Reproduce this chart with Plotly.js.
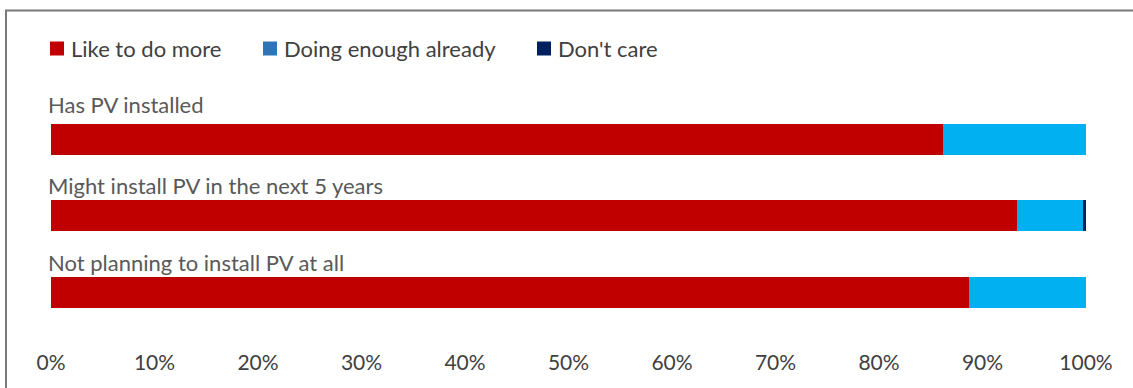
<!DOCTYPE html>
<html>
<head>
<meta charset="utf-8">
<script src="https://cdn.plot.ly/plotly-3.0.1.min.js"></script>
<style>
  html, body { margin: 0; padding: 0; background: #ffffff; }
  #chart { width: 1133px; height: 388px; }
</style>
</head>
<body>
<div id="chart"></div>
<script>
// ---- data ----
const categories = ["Has PV installed", "Might install PV in the next 5 years", "Not planning to install PV at all"];
const seriesNames = ["Like to do more", "Doing enough already", "Don't care"];
const likeToDoMore = [0.862, 0.933, 0.887];
const doingEnoughAlready = [0.138, 0.064, 0.113];
const dontCare = [0.0, 0.003, 0.0];
const tickValues = [0, 0.1, 0.2, 0.3, 0.4, 0.5, 0.6, 0.7, 0.8, 0.9, 1.0];
const tickLabels = ["0%", "10%", "20%", "30%", "40%", "50%", "60%", "70%", "80%", "90%", "100%"];

// ---- style ----
const W = 1133, H = 388;
const M = { l: 51, r: 47, t: 101, b: 40 };
const barColors = ["#C00000", "#00B0F0", "#002060"];
const legendColors = ["#C00000", "#2E75B6", "#002060"];
const FONT = "Lato, 'Open Sans', sans-serif";

const pw = W - M.l - M.r, ph = H - M.t - M.b;
const px2x = p => (p - M.l) / pw;
const px2y = p => 1 - (p - M.t) / ph;

const values = [likeToDoMore, doingEnoughAlready, dontCare];
const traces = seriesNames.map((name, i) => ({
  type: "bar",
  orientation: "h",
  name: name,
  x: values[i],
  y: categories,
  marker: { color: barColors[i], line: { width: 0 } },
  showlegend: false,
  hoverinfo: "name+x"
}));

const shapes = [];
const annotations = [];

// frame (continues past right and bottom edges)
shapes.push({
  type: "rect", xref: "paper", yref: "paper",
  x0: px2x(6), x1: px2x(W + 20), y0: px2y(10.5), y1: px2y(H + 20),
  line: { color: "#7a7a7a", width: 2 }, fillcolor: "rgba(0,0,0,0)", layer: "below"
});

// manual legend
const legendSwatchX = [50, 263, 537];
const swatch = 14, legendCY = 48.5;
seriesNames.forEach((name, i) => {
  shapes.push({
    type: "rect", xref: "paper", yref: "paper",
    x0: px2x(legendSwatchX[i]), x1: px2x(legendSwatchX[i] + swatch),
    y0: px2y(legendCY - swatch / 2), y1: px2y(legendCY + swatch / 2),
    line: { width: 0 }, fillcolor: legendColors[i]
  });
  annotations.push({
    xref: "paper", yref: "paper",
    x: px2x(legendSwatchX[i] + swatch + 5), y: px2y(legendCY),
    xanchor: "left", yanchor: "middle", showarrow: false,
    text: name, font: { family: FONT, size: 22, color: "#404040" }
  });
});

// category labels above bars
const labelShift = [35, 30, 30];
categories.forEach((c, i) => {
  annotations.push({
    xref: "x", yref: "y", x: 0, y: c,
    xanchor: "left", yanchor: "middle", xshift: -5, yshift: labelShift[i],
    showarrow: false, text: c,
    font: { family: FONT, size: 22, color: "#595959" }
  });
});

const layout = {
  width: W, height: H,
  margin: M,
  paper_bgcolor: "#ffffff", plot_bgcolor: "rgba(0,0,0,0)",
  barmode: "stack",
  bargap: 0.6,
  showlegend: false,
  font: { family: FONT, color: "#404040" },
  xaxis: {
    range: [0, 1],
    tickvals: tickValues, ticktext: tickLabels,
    showgrid: false, zeroline: false, showline: false, ticks: "",
    tickfont: { family: FONT, size: 21, color: "#404040" },
    fixedrange: true
  },
  yaxis: {
    type: "category",
    categoryorder: "array", categoryarray: categories,
    range: [2.729, -0.5],
    showticklabels: false, showgrid: false, zeroline: false, showline: false, ticks: "",
    fixedrange: true
  },
  shapes: shapes,
  annotations: annotations
};

Plotly.newPlot("chart", traces, layout, { displayModeBar: false, staticPlot: true });
</script>
</body>
</html>
